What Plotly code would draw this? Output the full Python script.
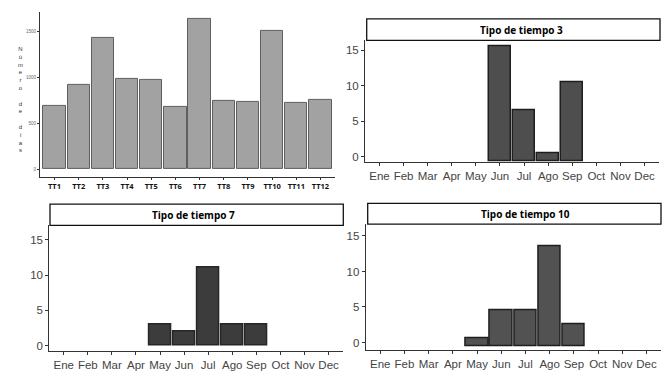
import plotly.graph_objects as go

# ---- data ----
tt_labels = ["TT1", "TT2", "TT3", "TT4", "TT5", "TT6", "TT7", "TT8", "TT9", "TT10", "TT11", "TT12"]
tt_days = [689, 919, 1428, 984, 973, 672, 1630, 747, 732, 1504, 718, 754]

months = ["Ene", "Feb", "Mar", "Apr", "May", "Jun", "Jul", "Ago", "Sep", "Oct", "Nov", "Dec"]
tt3_values = [0, 0, 0, 0, 0, 15.5, 6.5, 0.5, 10.5, 0, 0, 0]
tt7_values = [0, 0, 0, 0, 3, 2, 11, 3, 3, 0, 0, 0]
tt10_values = [0, 0, 0, 0, 0.6, 4.6, 4.6, 13.6, 2.6, 0, 0, 0]
tt3_base = -0.6
tt7_base = 0
tt10_base = -0.5

titles = ["Tipo de tiempo 3", "Tipo de tiempo 7", "Tipo de tiempo 10"]
y_title = "Número de días"

W, H = 669, 371


def px_x(a, b):
    return [a / W, b / W]


def px_y(top, bottom):
    return [1 - bottom / H, 1 - top / H]


fig = go.Figure()

idx = list(range(12))

fig.add_trace(go.Bar(x=idx, y=tt_days, width=0.92, marker=dict(color="#a2a2a2", line=dict(color="#5e5e5e", width=1)),
                     xaxis="x", yaxis="y", showlegend=False))


def facet_bar(vals, base, xa, ya, fill, edge):
    xs = [i for i, v in enumerate(vals) if v != 0]
    ys = [v - base for v in vals if v != 0]
    fig.add_trace(go.Bar(x=xs, y=ys, base=base, width=0.93,
                         marker=dict(color=fill, line=dict(color=edge, width=1.5)),
                         xaxis=xa, yaxis=ya, showlegend=False))


facet_bar(tt3_values, tt3_base, "x2", "y2", "#4e4e4e", "#1e1e1e")
facet_bar(tt7_values, tt7_base, "x3", "y3", "#3c3c3c", "#262626")
facet_bar(tt10_values, tt10_base, "x4", "y4", "#525252", "#1e1e1e")

axis_common = dict(showline=True, linecolor="#333333", linewidth=1, ticks="outside",
                   tickcolor="#333333", showgrid=False, zeroline=False, fixedrange=True)

month_font = dict(family="Liberation Sans, Arial", size=11.5, color="#444444")
num_font = dict(family="Liberation Sans, Arial", size=11.5, color="#444444")

fig.update_layout(
    width=W, height=H,
    margin=dict(l=0, r=0, t=0, b=0),
    paper_bgcolor="white", plot_bgcolor="white",
    bargap=0,
    xaxis=dict(domain=px_x(40, 335), anchor="y", range=[-0.6, 11.6], tickvals=idx,
               ticktext=["<b>" + t + "</b>" for t in tt_labels],
               tickfont=dict(family="Open Sans", size=7.5, color="#111111"), ticklen=2, **axis_common),
    yaxis=dict(domain=px_y(12, 178), anchor="x", range=[-81.5, 1711.5], tickvals=[0, 500, 1000, 1500],
               tickfont=dict(family="Liberation Sans, Arial", size=4.5, color="#666666"), ticklen=2,
               **axis_common),
    xaxis2=dict(domain=px_x(365, 659), anchor="y2", range=[-0.6, 11.6], tickvals=idx, ticktext=months,
                tickfont=month_font, ticklen=3, **axis_common),
    yaxis2=dict(domain=px_y(40.7, 163.3), anchor="x2", range=[-0.74, 16.4], tickvals=[0, 5, 10, 15],
                tickfont=num_font, ticklen=3, **axis_common),
    xaxis3=dict(domain=px_x(49.3, 343), anchor="y3", range=[-0.6, 11.6], tickvals=idx, ticktext=months,
                tickfont=month_font, ticklen=3, **axis_common),
    yaxis3=dict(domain=px_y(227.3, 354.3), anchor="x3", range=[-0.79, 17.0], tickvals=[0, 5, 10, 15],
                tickfont=num_font, ticklen=3, **axis_common),
    xaxis4=dict(domain=px_x(365.7, 661), anchor="y4", range=[-0.6, 11.6], tickvals=idx, ticktext=months,
                tickfont=month_font, ticklen=3, **axis_common),
    yaxis4=dict(domain=px_y(226, 353.3), anchor="x4", range=[-1.12, 16.66], tickvals=[0, 5, 10, 15],
                tickfont=num_font, ticklen=3, **axis_common),
)

# strips
strips = [(366.7, 19, 660, 40.7), (50, 205.7, 343.3, 227.3), (367.7, 205, 661, 226)]
title_x = [521.7, 193, 525.8]
for (x0, y0, x1, y1), t, tx in zip(strips, titles, title_x):
    fig.add_shape(type="rect", xref="paper", yref="paper", x0=x0 / W, x1=x1 / W, y0=1 - y1 / H, y1=1 - y0 / H,
                  line=dict(color="#111111", width=1.3), fillcolor="white")
    fig.add_annotation(xref="paper", yref="paper", x=tx / W, y=1 - (y0 + y1) / 2 / H, text="<b>" + t + "</b>",
                       showarrow=False, xanchor="center", yanchor="middle",
                       font=dict(family="Open Sans", size=10, color="#000000"))

# stacked y-axis title for the first panel
letters = []
for word in y_title.split(" "):
    letters.append("<br>".join(list(word)))
stacked = "<br><br>".join(letters)
fig.add_annotation(xref="paper", yref="paper", x=20 / W, y=1 - 100 / H, text=stacked, showarrow=False,
                   xanchor="center", yanchor="middle", align="center",
                   font=dict(family="Liberation Sans, Arial", size=6, color="#333333"))

fig.write_html("out.html", config={"displayModeBar": False},
               post_script="document.body.style.margin='0';document.body.style.overflow='hidden';")
